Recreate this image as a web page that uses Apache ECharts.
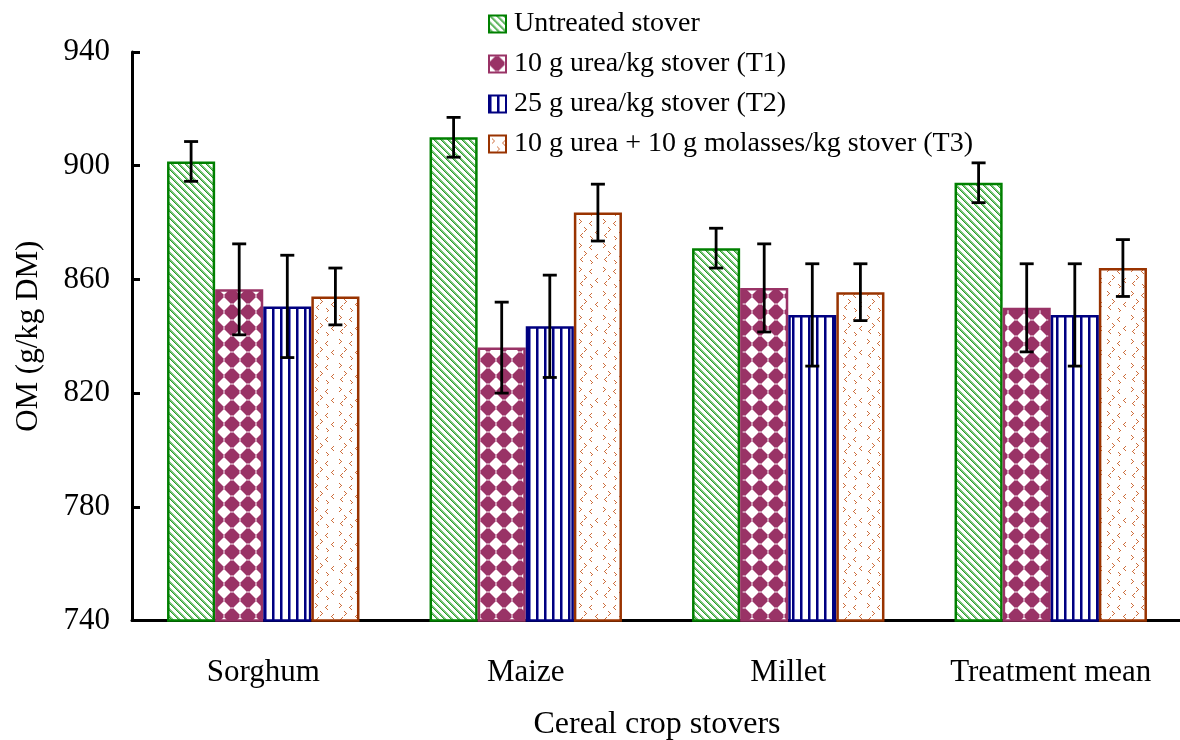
<!DOCTYPE html>
<html>
<head>
<meta charset="utf-8">
<script src="https://cdn.jsdelivr.net/npm/echarts@6/dist/echarts.min.js"></script>
<style>
html,body{margin:0;padding:0;background:#fff;}
#chart{width:1180px;height:740px;}
</style>
</head>
<body>
<div id="chart"></div>
<script>
const categories = ['Sorghum', 'Maize', 'Millet', 'Treatment mean'];
const seriesNames = ['Untreated stover', '10 g urea/kg stover (T1)', '25 g urea/kg stover (T2)', '10 g urea + 10 g molasses/kg stover (T3)'];
const untreated = [901.5, 910, 871, 894];
const untreatedErr = [7, 7, 7, 7];
const t1 = [856.5, 836, 857, 850];
const t1Err = [16, 16, 15.5, 15.5];
const t2 = [850.5, 843.5, 847.5, 847.5];
const t2Err = [18, 18, 18, 18];
const t3 = [854, 883.5, 855.5, 864];
const t3Err = [10, 10, 10, 10];
const yTicks = [740, 780, 820, 860, 900, 940];

function makeTile(size, fn) {
  const c = document.createElement('canvas');
  c.width = size; c.height = size;
  const ctx = c.getContext('2d');
  const img = ctx.createImageData(size, size);
  for (let y = 0; y < size; y++) {
    for (let x = 0; x < size; x++) {
      const col = fn(x, y);
      const i = (y * size + x) * 4;
      img.data[i] = col[0]; img.data[i+1] = col[1]; img.data[i+2] = col[2]; img.data[i+3] = 255;
    }
  }
  ctx.putImageData(img, 0, 0);
  return c;
}
const W = [255,255,255];
const greenTile = makeTile(7, (x, y) => {
  const m = ((x - y) % 7 + 7) % 7;
  if (m === 0) return [40,155,40];
  if (m === 1 || m === 2) return [130,200,130];
  return W;
});
const pinkTile = makeTile(16, (x, y) => {
  const dx = Math.abs(x + 0.5 - 8), dy = Math.abs(y + 0.5 - 8);
  const d = dx + dy;
  const r = Math.sqrt(dx*dx + dy*dy);
  if (d < 9 && r < 7.2) return [153,51,102];
  if (d < 10 && r < 8) return [205,150,178];
  return W;
});
const blueTile = makeTile(8, (x, y) => {
  if (x === 0 || x === 1) return [0,0,128];
  if (x === 2) return [120,120,200];
  return W;
});
const orangeTile = makeTile(24, (x, y) => {
  const marks = [[3,3,1],[13,5,-1],[8,11,1],[19,14,-1],[4,17,-1],[14,20,1]];
  for (const [mx, my, dir] of marks) {
    const pts = dir > 0
      ? [[mx,my],[mx+1,my+1],[mx+2,my+2],[mx+1,my+3],[mx,my+4]]
      : [[mx+2,my],[mx+1,my+1],[mx,my+2],[mx+1,my+3],[mx+2,my+4]];
    for (const p of pts) if (p[0] === x && p[1] === y) return [205,110,60];
  }
  return W;
});

const colors = [
  {fill: {image: greenTile, repeat: 'repeat'}, border: '#008000'},
  {fill: {image: pinkTile, repeat: 'repeat'}, border: '#993366'},
  {fill: {image: blueTile, repeat: 'repeat'}, border: '#000080'},
  {fill: {image: orangeTile, repeat: 'repeat'}, border: '#993300'}
];
const values = [untreated, t1, t2, t3];
const errs = [untreatedErr, t1Err, t2Err, t3Err];
const GAP = 0.267;
const FONT = 'Liberation Serif';

const series = [];
values.forEach((vals, i) => {
  series.push({
    name: seriesNames[i],
    type: 'bar',
    data: vals,
    barGap: '0%',
    barCategoryGap: (GAP * 100) + '%',
    itemStyle: {color: colors[i].fill, borderColor: colors[i].border, borderWidth: 2.5},
    emphasis: {disabled: true},
    z: 2
  });
});
values.forEach((vals, i) => {
  series.push({
    name: 'err' + i,
    type: 'custom',
    z: 10,
    data: vals.map((v, k) => [k, v - errs[i][k], v + errs[i][k]]),
    encode: {x: 0, y: [1, 2]},
    renderItem: function (params, api) {
      const c = api.value(0);
      const lo = api.coord([c, api.value(1)]);
      const hi = api.coord([c, api.value(2)]);
      const band = api.size([1, 0])[0];
      const bw = band * (1 - GAP) / 4;
      const x = lo[0] + (i - 1.5) * bw;
      const cap = 7;
      const st = {stroke: '#000', lineWidth: 2.8};
      return {
        type: 'group',
        children: [
          {type: 'line', shape: {x1: x, y1: lo[1], x2: x, y2: hi[1]}, style: st},
          {type: 'line', shape: {x1: x - cap, y1: lo[1], x2: x + cap, y2: lo[1]}, style: st},
          {type: 'line', shape: {x1: x - cap, y1: hi[1], x2: x + cap, y2: hi[1]}, style: st}
        ]
      };
    }
  });
});

const chart = echarts.init(document.getElementById('chart'), null, {renderer: 'canvas'});
chart.setOption({
  animation: false,
  backgroundColor: '#fff',
  textStyle: {fontFamily: FONT},
  grid: {left: 132, right: -2, top: 52, bottom: 119.5, containLabel: false, outerBoundsMode: 'none'},
  legend: {
    data: seriesNames,
    orient: 'vertical',
    left: 483,
    top: 5,
    itemWidth: 17,
    itemHeight: 17,
    itemGap: 12,
    icon: 'rect',
    selectedMode: false,
    textStyle: {fontFamily: FONT, fontSize: 28, color: '#000', padding: [0,0,0,3]}
  },
  xAxis: {
    type: 'category',
    data: categories,
    name: 'Cereal crop stovers',
    nameLocation: 'middle',
    nameGap: 88,
    nameTextStyle: {fontFamily: FONT, fontSize: 32, color: '#000'},
    axisLine: {lineStyle: {color: '#000', width: 3}},
    axisTick: {inside: true, length: 8, lineStyle: {width: 3, color: '#000'}},
    axisLabel: {fontFamily: FONT, fontSize: 31, color: '#000', margin: 37},
    splitLine: {show: false}
  },
  yAxis: {
    type: 'value',
    min: yTicks[0],
    max: yTicks[yTicks.length - 1],
    interval: 40,
    name: 'OM (g/kg DM)',
    nameLocation: 'middle',
    nameRotate: 90,
    nameGap: 88,
    nameTextStyle: {fontFamily: FONT, fontSize: 31, color: '#000'},
    axisLine: {show: true, lineStyle: {color: '#000', width: 3}},
    axisTick: {show: true, inside: true, length: 8, lineStyle: {width: 3, color: '#000'}},
    axisLabel: {fontFamily: FONT, fontSize: 31, color: '#000', margin: 22},
    splitLine: {show: false}
  },
  series: series
});
</script>
</body>
</html>
